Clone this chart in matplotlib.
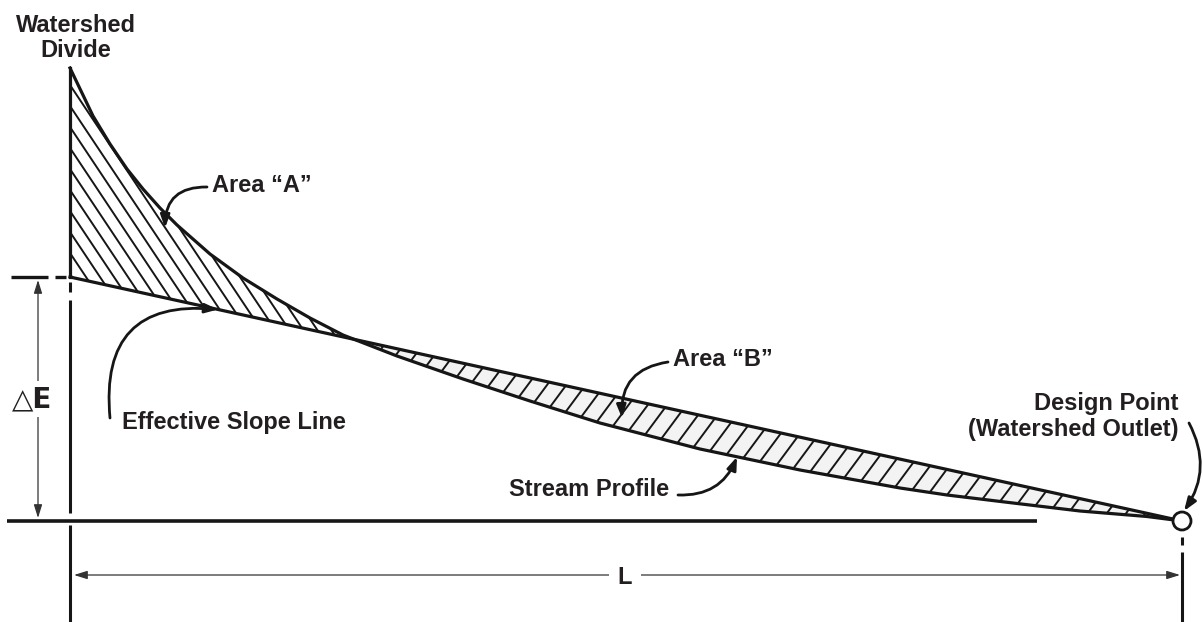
import numpy as np
import matplotlib
matplotlib.use("Agg")
import matplotlib.pyplot as plt
from matplotlib.patches import Circle
from matplotlib.collections import LineCollection

# ---------------- data (horizontal distance from divide, elevation above outlet; px units) -------------
profile_dist = [0, 12, 23, 40, 57, 73, 90, 107, 140, 173, 207, 240, 273, 327, 393, 460,
                530, 630, 730, 830, 877, 943, 1010, 1077, 1112]
profile_elev = [453, 428, 405, 377, 352, 332, 313, 296, 267, 243, 222, 203, 186, 165, 142, 120,
                98, 72, 51, 33, 26, 18, 10, 4.5, 0]
slope_dist = [0, 1112]          # effective slope line: divide -> design point
slope_elev = [244, 0]
L_total = 1112                  # horizontal length L
dE = 244                        # elevation difference

labels = {
    "divide": ["Watershed", "Divide"],
    "areaA": "Area \u201cA\u201d",
    "areaB": "Area \u201cB\u201d",
    "eff": "Effective Slope Line",
    "stream": "Stream Profile",
    "design": ["Design Point", "(Watershed Outlet)"],
    "L": "L",
    "dE": "\u25b3E",
}

# ---------------- style ----------------
plt.rcParams['font.family'] = ['Liberation Sans', 'DejaVu Sans']
INK = '#161616'
TXT = '#231f20'
FS = 17

fig = plt.figure(figsize=(12.03, 6.22), dpi=100)
ax = fig.add_axes([0, 0, 1, 1])
ax.set_xlim(-70, 1133)
ax.set_ylim(-101, 521)
ax.axis('off')

d = np.linspace(0, L_total, 3000)
prof = np.interp(d, profile_dist, profile_elev)
eff = np.interp(d, slope_dist, slope_elev)

# shaded areas (clip regions for the hatching)
polyA = ax.fill_between(d, prof, eff, where=prof >= eff, interpolate=True,
                        facecolor='white', linewidth=0, zorder=1)
polyB = ax.fill_between(d, prof, eff, where=prof < eff, interpolate=True,
                        facecolor='#f3f3f3', linewidth=0, zorder=1)


def hatch(poly, slope, spacing, x0, x1, c_lo, c_hi):
    segs = []
    for c in np.arange(c_lo, c_hi, spacing):
        segs.append([(x0, slope * x0 + c), (x1, slope * x1 + c)])
    lc = LineCollection(segs, colors=INK, linewidths=1.4, zorder=2)
    ax.add_collection(lc)
    lc.set_clip_path(poly.get_paths()[0], transform=ax.transData)


hatch(polyA, -1.5, 21, -10, 450, 100, 1000)
hatch(polyB, 1.35, 26, 200, 1150, -1600, 0)

# profile and effective slope line
ax.plot(profile_dist, profile_elev, color=INK, lw=2.3, solid_joinstyle='round', zorder=3)
ax.plot(slope_dist, slope_elev, color=INK, lw=2.3, zorder=3)

# left vertical (divide)
ax.plot([0, 0], [profile_elev[0], dE], color=INK, lw=2.3, zorder=3)
for y0, y1 in [(dE - 5, dE - 15), (dE - 23, 8), (-4, -101)]:
    ax.plot([0, 0], [y0, y1], color=INK, lw=2.2, zorder=3, solid_capstyle='butt')
# top dashed reference at dE
for x0, x1 in [(-59, -22), (-15, -4)]:
    ax.plot([x0, x1], [dE, dE], color=INK, lw=2.4, zorder=3, solid_capstyle='butt')
# baseline
ax.plot([-63, 967], [0, 0], color=INK, lw=2.6, zorder=3, solid_capstyle='butt')
# right vertical (outlet)
ax.plot([L_total, L_total], [-16, -24], color=INK, lw=2.2, zorder=3, solid_capstyle='butt')
ax.plot([L_total, L_total], [-31, -101], color=INK, lw=2.2, zorder=3, solid_capstyle='butt')

# design point circle
ax.add_patch(Circle((L_total, 0), 9, facecolor='white', edgecolor=INK, lw=2.0, zorder=5))

# dimension arrows
dim = dict(arrowstyle='<|-|>,head_length=0.8,head_width=0.25', color='#333333', lw=0.9,
           shrinkA=0, shrinkB=0)
ax.annotate('', xy=(-32, 3), xytext=(-32, dE - 3), arrowprops=dim, zorder=4)
ax.annotate('', xy=(L_total - 2, -54), xytext=(4, -54), arrowprops=dim, zorder=4)
ax.text(-38, 114, labels["dE"], fontsize=20, fontweight='bold', color=TXT, ha='center',
        va='baseline', family=['DejaVu Sans', 'Liberation Sans'], zorder=6,
        bbox=dict(facecolor='white', edgecolor='none', pad=3))
ax.text(555, -62.5, labels["L"], fontsize=FS, fontweight='bold', color=TXT, ha='center',
        va='baseline', zorder=6, bbox=dict(facecolor='white', edgecolor='none', pad=6))

# text labels
tk = dict(fontsize=FS, fontweight='bold', color=TXT, va='baseline', zorder=6)
ax.text(6, 489, labels["divide"][0], ha='center', **tk)
ax.text(6, 464, labels["divide"][1], ha='center', **tk)
ax.text(142, 329.5, labels["areaA"], ha='left', **tk)
ax.text(603, 155.5, labels["areaB"], ha='left', **tk)
ax.text(52, 91.5, labels["eff"], ha='left', **tk)
ax.text(439, 24.5, labels["stream"], ha='left', **tk)
ax.text(1108, 111, labels["design"][0], ha='right', **tk)
ax.text(1108, 85, labels["design"][1], ha='right', **tk)

# curved leader arrows
def leader(start, tip, rad):
    ax.annotate('', xy=tip, xytext=start,
                arrowprops=dict(arrowstyle='-|>,head_length=0.55,head_width=0.2',
                                connectionstyle=f'arc3,rad={rad}', color=INK, lw=2.0,
                                shrinkA=0, shrinkB=0, mutation_scale=14),
                zorder=4)

leader((137, 334), (95, 293), 0.5)
leader((40, 103), (148, float(np.interp(148, slope_dist, slope_elev))), -0.6)
leader((598, 159), (552, 103), 0.45)
leader((608, 26), (667, float(np.interp(667, profile_dist, profile_elev))), 0.35)
leader((1119, 98), (1114, 10), -0.3)

fig.savefig('out.png', dpi=100, facecolor='white')
